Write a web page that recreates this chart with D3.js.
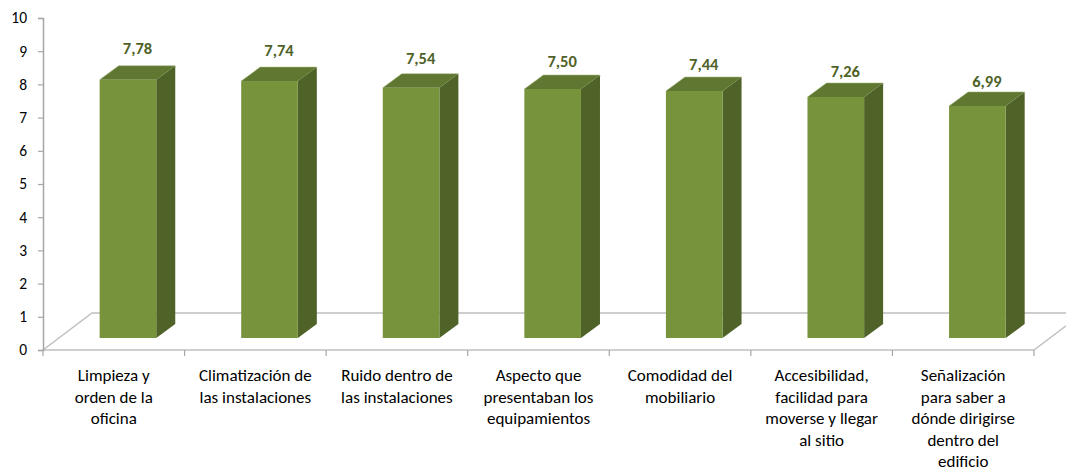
<!DOCTYPE html>
<html>
<head>
<meta charset="utf-8">
<script src="https://cdn.jsdelivr.net/npm/d3@7"></script>
<style>
  html, body { margin: 0; padding: 0; background: #fff; }
  svg { display: block; }
  text { font-family: Carlito, Calibri, Lato, "Open Sans", sans-serif; }
</style>
</head>
<body>
<svg id="chart" width="1066" height="472"></svg>
<script>
// Satisfaction scores per aspect of the office (0–10)
const categories = [
  "Limpieza y\norden de la\noficina",
  "Climatización de\nlas instalaciones",
  "Ruido dentro de\nlas instalaciones",
  "Aspecto que\npresentaban los\nequipamientos",
  "Comodidad del\nmobiliario",
  "Accesibilidad,\nfacilidad para\nmoverse y llegar\nal sitio",
  "Señalización\npara saber a\ndónde dirigirse\ndentro del\nedificio"
];
const values = [7.78, 7.74, 7.54, 7.50, 7.44, 7.26, 6.99];
const yTicks = [0, 1, 2, 3, 4, 5, 6, 7, 8, 9, 10];

const svg = d3.select("#chart");

// layout of the pseudo-3D plot
const left = 43, right = 1034;
const floorFront = 350, floorDx = 49, floorDy = 37;
const barBase = 338, depthX = 19, depthY = 14;
const unit = 33.2;

const x = d3.scaleBand().domain(categories).range([left, right]).padding(0);
const yAxisScale = d3.scaleLinear().domain([0, 10]).range([floorFront, floorFront - 10 * unit]);
const yBar = d3.scaleLinear().domain([0, 10]).range([barBase, barBase - 10 * unit]);
// label gap above the bar top shrinks slightly toward the right (perspective)
const labelGap = d3.scaleLinear().domain([0, categories.length - 1]).range([12, 5]);

const bw = x.bandwidth();
const barOffset = bw * 0.4, barW = bw * 0.4;

// floor
const floorColor = "#BFBFBF";
const floor = svg.append("g").attr("stroke", floorColor).attr("stroke-width", 1.5).attr("fill", "none");
floor.append("path").attr("d",
  `M${left},${floorFront} L${left + floorDx},${floorFront - floorDy} L${right + floorDx},${floorFront - floorDy}`);
floor.append("path").attr("d",
  `M${right},${floorFront} L${right + floorDx},${floorFront - floorDy}`);

// bars
const bars = svg.append("g").selectAll("g").data(values).join("g");
bars.each(function(v, i) {
  const g = d3.select(this);
  const x0 = x(categories[i]) + barOffset, x1 = x0 + barW;
  const yTop = yBar(v), yB = yBar(0);
  // side face
  g.append("path").attr("fill", "#4F6228")
    .attr("d", `M${x1},${yTop} L${x1 + depthX},${yTop - depthY} L${x1 + depthX},${yB - depthY} L${x1},${yB} Z`);
  // top face
  g.append("path").attr("fill", "#5F7731")
    .attr("d", `M${x0},${yTop} L${x0 + depthX},${yTop - depthY} L${x1 + depthX},${yTop - depthY} L${x1},${yTop} Z`);
  // front face
  g.append("rect").attr("fill", "#77933C")
    .attr("x", x0).attr("y", yTop).attr("width", barW).attr("height", yB - yTop);
  // soft highlight along top edges
  g.append("path").attr("fill", "none").attr("stroke", "#A9BC84").attr("stroke-width", 0.8).attr("opacity", 0.7)
    .attr("d", `M${x0},${yTop} L${x0 + depthX},${yTop - depthY} L${x1 + depthX},${yTop - depthY} L${x1 + depthX},${yTop - depthY + 2}`);
  // value label
  g.append("text")
    .attr("x", x0 + (barW + depthX) / 2)
    .attr("y", yTop - depthY - labelGap(i))
    .attr("text-anchor", "middle")
    .attr("font-weight", "bold")
    .attr("font-size", "16.5px")
    .attr("fill", "#4F6228")
    .text(d3.format(".2f")(v).replace(".", ","));
});

// x axis line and ticks
const axisColor = "#A6A6A6";
svg.append("line").attr("x1", left).attr("x2", right).attr("y1", floorFront).attr("y2", floorFront)
  .attr("stroke", floorColor).attr("stroke-width", 1.5);
const xTickPos = categories.map(c => x(c)).concat([right]);
svg.append("g").selectAll("line").data(xTickPos).join("line")
  .attr("x1", d => d).attr("x2", d => d).attr("y1", floorFront).attr("y2", floorFront + 6)
  .attr("stroke", axisColor).attr("stroke-width", 1.2);

// category labels
const lblG = svg.append("g");
categories.forEach(c => {
  const t = lblG.append("text")
    .attr("x", x(c) + bw / 2)
    .attr("y", 381)
    .attr("text-anchor", "middle")
    .attr("font-size", "17px")
    .attr("fill", "#000");
  c.split("\n").forEach((line, j) => {
    t.append("tspan").attr("x", x(c) + bw / 2).attr("y", 381 + j * 21.6).text(line);
  });
});

// y axis
const yAxis = d3.axisLeft(yAxisScale).tickValues(yTicks).tickSize(5).tickPadding(11)
  .tickFormat(d3.format("d"));
const yg = svg.append("g").attr("transform", `translate(${left},0)`).call(yAxis);
yg.select(".domain").attr("stroke", axisColor).attr("stroke-width", 1.5);
yg.selectAll(".tick line").attr("stroke", axisColor).attr("stroke-width", 1.2);
yg.selectAll(".tick text")
  .attr("font-size", "15.5px").attr("fill", "#000")
  .attr("font-family", "Carlito, Calibri, Lato, 'Open Sans', sans-serif");
</script>
</body>
</html>
